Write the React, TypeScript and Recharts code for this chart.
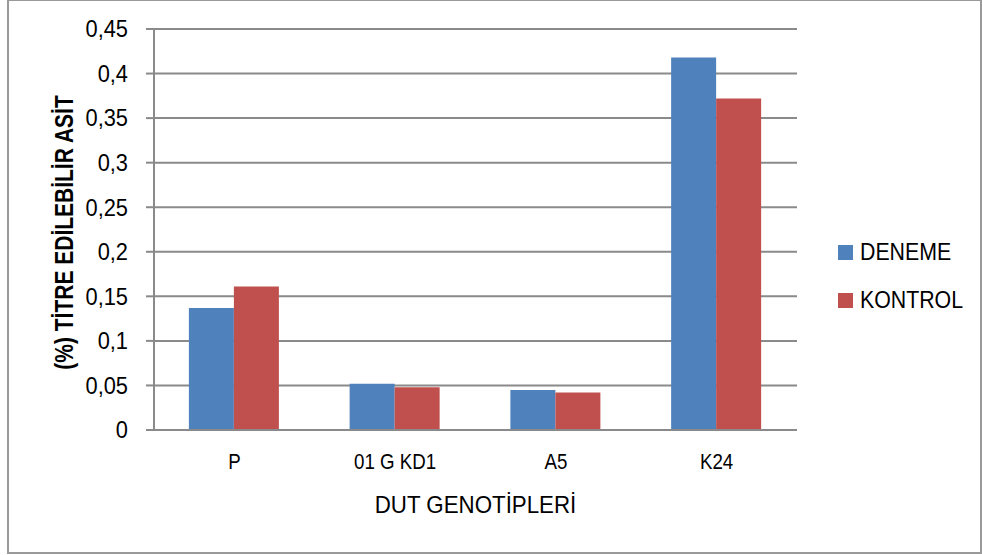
import React from 'react';
import { BarChart, Bar, XAxis, YAxis, CartesianGrid, Legend } from 'recharts';

const genotypes = ['P', '01 G KD1', 'A5', 'K24'];
const denemeValues = [0.137, 0.052, 0.045, 0.418];
const kontrolValues = [0.161, 0.048, 0.042, 0.372];
const yTicks = [0, 0.05, 0.1, 0.15, 0.2, 0.25, 0.3, 0.35, 0.4, 0.45];

const chartData = genotypes.map((name, i) => ({
  name,
  deneme: denemeValues[i],
  kontrol: kontrolValues[i],
}));

const FONT = '"Liberation Sans", Arial, sans-serif';
const GRID = '#8a8a8a';

const formatTick = (v: number) => String(v).replace('.', ',');

// the reference uses a narrow face, so plain Arial metrics are squeezed sideways
const YTick = (props: any) => {
  const { x, y, payload } = props;
  return (
    <text
      transform={`translate(${x}, ${y}) scale(0.95, 1)`}
      textAnchor="end"
      dy="0.36em"
      fontFamily={FONT}
      fontSize={23}
      fill="#000"
    >
      {formatTick(payload.value)}
    </text>
  );
};

const XTick = (props: any) => {
  const { x, y, payload } = props;
  return (
    <text
      transform={`translate(${x}, ${y}) scale(0.87, 1)`}
      textAnchor="middle"
      dy={16}
      fontFamily={FONT}
      fontSize={21.5}
      fill="#000"
    >
      {payload.value}
    </text>
  );
};

const YTitle = (props: any) => {
  const vb = props.viewBox || { x: 0, y: 29, width: 154, height: 401 };
  const x = vb.x + 64;
  const y = vb.y + vb.height / 2 + 3;
  return (
    <text
      transform={`translate(${x}, ${y}) rotate(-90) scale(0.84, 1)`}
      textAnchor="middle"
      dy="0.36em"
      fontFamily={FONT}
      fontWeight="bold"
      fontSize={25}
      fill="#000"
    >
      (%) TİTRE EDİLEBİLİR ASİT
    </text>
  );
};

const XTitle = (props: any) => {
  const vb = props.viewBox || { x: 154, y: 430, width: 643, height: 0 };
  return (
    <text
      transform={`translate(${vb.x + vb.width / 2}, 513) scale(0.93, 1)`}
      textAnchor="middle"
      fontFamily={FONT}
      fontSize={24}
      fill="#000"
    >
      DUT GENOTİPLERİ
    </text>
  );
};

const LegendBox = (props: any) => {
  const { payload } = props;
  return (
    <div style={{ fontFamily: FONT }}>
      {(payload || []).map((entry: any) => (
        <div key={entry.value} style={{ display: 'flex', alignItems: 'center', height: 48 }}>
          <span style={{ display: 'inline-block', width: 15, height: 15, background: entry.color, marginRight: 7 }} />
          <span
            style={{
              display: 'inline-block',
              fontSize: 24.5,
              lineHeight: 1,
              color: '#000',
              transform: 'scaleX(0.87)',
              transformOrigin: 'left center',
            }}
          >
            {entry.value}
          </span>
        </div>
      ))}
    </div>
  );
};

export default function App() {
  return (
    <div style={{ position: 'absolute', left: 0, top: 0, width: 982, height: 555, background: '#fff' }}>
      <div
        style={{
          position: 'absolute',
          left: 7,
          top: -1,
          width: 971,
          height: 551,
          border: '2px solid #9a9a9a',
        }}
      />
      <BarChart
        width={982}
        height={555}
        data={chartData}
        margin={{ top: 29, right: 185, bottom: 45, left: 0 }}
        barCategoryGap="21.7%"
        barGap={0}
      >
        <CartesianGrid vertical={false} stroke={GRID} strokeWidth={2} />
        <XAxis
          dataKey="name"
          height={80}
          axisLine={{ stroke: GRID, strokeWidth: 2 }}
          tickLine={false}
          tickSize={0}
          tickMargin={23}
          tick={XTick}
          label={{ content: XTitle }}
        />
        <YAxis
          width={154}
          domain={[0, 0.45]}
          ticks={yTicks}
          interval={0}
          axisLine={{ stroke: GRID, strokeWidth: 2 }}
          tickLine={{ stroke: GRID, strokeWidth: 2 }}
          tickSize={8}
          tickMargin={18}
          tick={YTick}
          label={{ content: YTitle }}
        />
        <Legend
          layout="vertical"
          align="center"
          verticalAlign="middle"
          wrapperStyle={{ left: 838, top: 228, width: 140 }}
          content={LegendBox}
        />
        <Bar dataKey="deneme" name="DENEME" fill="#4F81BD" isAnimationActive={false} />
        <Bar dataKey="kontrol" name="KONTROL" fill="#C0504D" isAnimationActive={false} />
      </BarChart>
    </div>
  );
}
